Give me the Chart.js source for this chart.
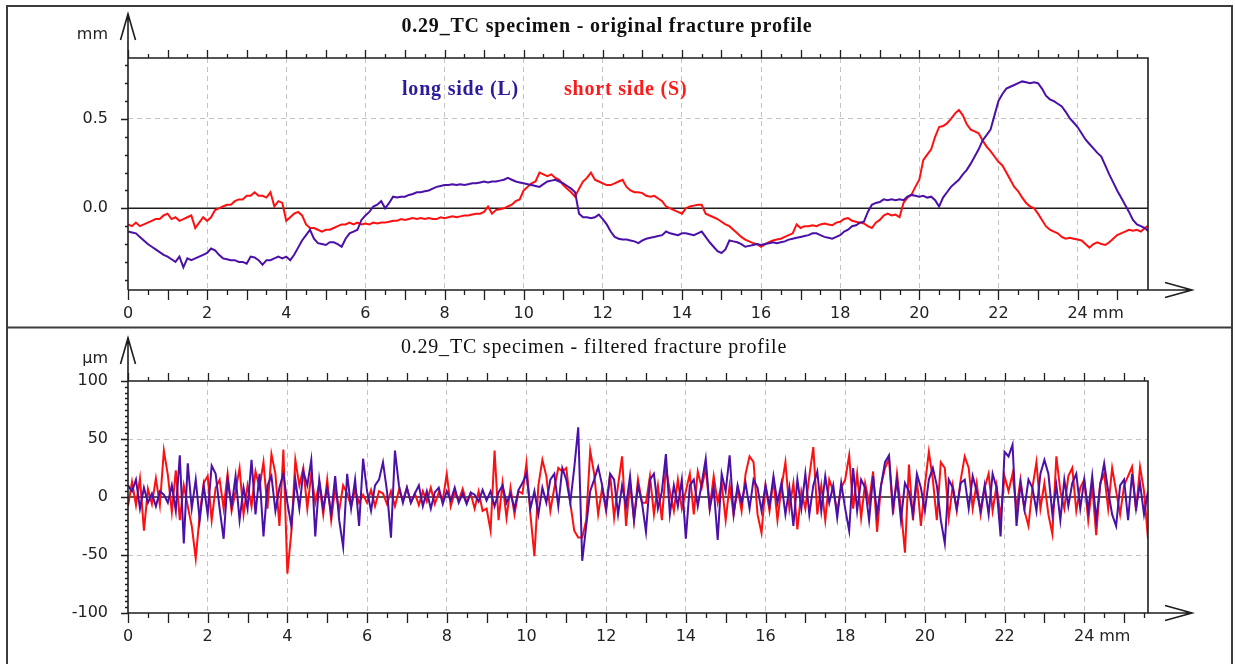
<!DOCTYPE html>
<html>
<head>
<meta charset="utf-8">
<script src="https://cdn.jsdelivr.net/npm/chart.js@4.4.1/dist/chart.umd.min.js"></script>
<style>
  html, body { margin: 0; padding: 0; background: #fff; }
  #topChart { position: absolute; left: 0; top: 0; }
  #botChart { position: absolute; left: 0; top: 328px; }
</style>
</head>
<body>
<canvas id="topChart" width="1235" height="329"></canvas>
<canvas id="botChart" width="1235" height="336"></canvas>
<script>
// sampling step along the profile (mm)
const TOP_STEP = 0.1;
const FILT_STEP = 0.1;

// x tick labels (mm), same for both panels
const X_LABELS = [0, 2, 4, 6, 8, 10, 12, 14, 16, 18, 20, 22, 24];
const TOP_Y_LABELS = [0, 0.5];
const FILT_Y_LABELS = [-100, -50, 0, 50, 100];

// original fracture profile (mm), 0 .. 25.8 mm
const TOP_SHORT = [
  -0.09,-0.10,-0.08,-0.10,-0.09,-0.08,-0.07,-0.06,-0.06,-0.04,
  -0.03,-0.06,-0.05,-0.07,-0.06,-0.05,-0.04,-0.11,-0.08,-0.05,
  -0.07,-0.05,-0.01,0.00,0.01,0.02,0.02,0.04,0.05,0.05,
  0.07,0.07,0.09,0.07,0.07,0.06,0.09,0.01,0.04,0.03,
  -0.07,-0.05,-0.03,-0.02,-0.04,-0.09,-0.11,-0.11,-0.12,-0.13,
  -0.12,-0.12,-0.11,-0.10,-0.09,-0.09,-0.08,-0.09,-0.08,-0.09,
  -0.085,-0.09,-0.08,-0.085,-0.08,-0.08,-0.075,-0.07,-0.07,-0.06,
  -0.065,-0.06,-0.055,-0.06,-0.055,-0.06,-0.055,-0.06,-0.06,-0.05,
  -0.055,-0.05,-0.045,-0.05,-0.045,-0.04,-0.04,-0.035,-0.03,-0.03,
  -0.02,0.01,-0.03,-0.01,-0.005,0.00,0.01,0.02,0.04,0.05,
  0.10,0.12,0.14,0.15,0.20,0.19,0.18,0.19,0.17,0.16,
  0.13,0.11,0.09,0.065,0.11,0.15,0.17,0.20,0.16,0.15,
  0.14,0.13,0.13,0.14,0.15,0.16,0.12,0.10,0.09,0.09,
  0.085,0.07,0.065,0.07,0.055,0.04,0.01,0.00,-0.01,-0.02,
  -0.03,0.00,0.01,0.015,0.02,0.02,-0.03,-0.04,-0.05,-0.06,
  -0.075,-0.09,-0.10,-0.12,-0.14,-0.16,-0.175,-0.185,-0.195,-0.20,
  -0.215,-0.20,-0.19,-0.18,-0.175,-0.17,-0.16,-0.15,-0.14,-0.09,
  -0.11,-0.10,-0.10,-0.095,-0.10,-0.09,-0.085,-0.09,-0.095,-0.08,
  -0.075,-0.06,-0.055,-0.07,-0.075,-0.08,-0.085,-0.10,-0.11,-0.08,
  -0.065,-0.04,-0.03,-0.04,-0.035,-0.05,0.03,0.06,0.075,0.12,
  0.16,0.27,0.30,0.33,0.40,0.455,0.46,0.475,0.50,0.53,
  0.55,0.52,0.47,0.44,0.43,0.42,0.38,0.345,0.32,0.29,
  0.26,0.24,0.20,0.16,0.12,0.095,0.06,0.03,0.01,0.00,
  -0.03,-0.065,-0.10,-0.12,-0.13,-0.14,-0.16,-0.17,-0.165,-0.17,
  -0.175,-0.18,-0.20,-0.22,-0.20,-0.19,-0.20,-0.205,-0.19,-0.17,
  -0.15,-0.14,-0.13,-0.12,-0.125,-0.12,-0.13,-0.11,-0.095
];
const TOP_LONG = [
  -0.13,-0.135,-0.14,-0.16,-0.18,-0.20,-0.215,-0.23,-0.245,-0.26,
  -0.27,-0.285,-0.30,-0.27,-0.33,-0.28,-0.29,-0.28,-0.27,-0.26,
  -0.25,-0.225,-0.235,-0.26,-0.28,-0.285,-0.29,-0.29,-0.30,-0.30,
  -0.31,-0.27,-0.275,-0.29,-0.315,-0.29,-0.29,-0.28,-0.27,-0.28,
  -0.27,-0.29,-0.26,-0.22,-0.18,-0.15,-0.12,-0.17,-0.195,-0.20,
  -0.205,-0.19,-0.19,-0.20,-0.215,-0.17,-0.14,-0.13,-0.12,-0.065,
  -0.04,-0.02,0.01,0.02,0.04,0.00,0.03,0.065,0.06,0.065,
  0.065,0.075,0.08,0.09,0.09,0.095,0.10,0.11,0.12,0.125,
  0.13,0.13,0.135,0.13,0.135,0.13,0.135,0.14,0.14,0.145,
  0.15,0.145,0.15,0.15,0.155,0.16,0.17,0.16,0.15,0.145,
  0.14,0.135,0.13,0.125,0.12,0.135,0.15,0.155,0.16,0.15,
  0.14,0.125,0.11,0.09,-0.03,-0.05,-0.05,-0.055,-0.05,-0.035,
  -0.06,-0.09,-0.13,-0.16,-0.17,-0.175,-0.175,-0.18,-0.185,-0.195,
  -0.18,-0.17,-0.165,-0.16,-0.155,-0.15,-0.13,-0.14,-0.145,-0.15,
  -0.14,-0.14,-0.145,-0.15,-0.14,-0.13,-0.16,-0.19,-0.215,-0.24,
  -0.25,-0.23,-0.18,-0.185,-0.19,-0.20,-0.215,-0.21,-0.205,-0.20,
  -0.205,-0.20,-0.195,-0.19,-0.195,-0.19,-0.185,-0.175,-0.17,-0.165,
  -0.16,-0.155,-0.15,-0.14,-0.14,-0.15,-0.16,-0.165,-0.17,-0.16,
  -0.15,-0.13,-0.12,-0.10,-0.095,-0.08,-0.075,-0.02,0.02,0.03,
  0.035,0.05,0.045,0.05,0.045,0.05,0.045,0.065,0.075,0.07,
  0.065,0.07,0.06,0.065,0.045,0.01,0.06,0.09,0.12,0.14,
  0.16,0.19,0.215,0.25,0.29,0.33,0.38,0.41,0.44,0.52,
  0.60,0.64,0.67,0.68,0.69,0.70,0.71,0.705,0.70,0.705,
  0.70,0.67,0.63,0.61,0.60,0.585,0.57,0.54,0.505,0.48,
  0.455,0.42,0.385,0.36,0.335,0.31,0.29,0.24,0.19,0.145,
  0.10,0.06,0.02,-0.02,-0.065,-0.09,-0.10,-0.11,-0.13
];

// filtered fracture profile (µm), 0 .. 25.6 mm
const FILT_SHORT = [
  -8,13,-7,16,-29,7,-6,16,-7,40,
  19,-13,23,-20,10,-8,-25,-53,-15,12,
  18,-20,8,15,-10,20,-12,5,25,-15,
  10,-8,22,8,30,-10,37,20,-25,41,
  -66,-30,32,10,25,-10,20,-5,12,-15,
  15,-20,8,-12,10,3,-8,6,-5,2,
  -5,6,-8,5,3,-6,5,-8,6,-3,
  8,-5,3,-7,5,-4,8,-6,4,-3,
  20,-8,4,-3,7,-5,3,-10,5,-12,
  -10,-29,40,-20,12,-18,8,-15,5,3,
  29,-15,-51,10,32,18,-12,8,25,22,
  25,-5,-29,-35,-35,-20,40,20,-15,8,
  -12,20,-18,10,35,-25,12,-20,15,-5,
  -5,18,-15,10,-20,25,5,-12,15,-10,
  5,20,-15,22,8,25,-10,18,-5,12,
  -20,10,-15,8,-12,20,35,30,-15,-31,
  10,-12,15,-20,8,30,-10,12,-28,5,
  -10,18,43,-15,10,-20,15,5,-12,8,
  15,36,-10,20,-18,12,-5,22,-30,10,
  25,33,-15,20,-10,-48,28,-20,15,-25,
  10,39,15,-20,30,25,-18,10,-12,15,
  35,25,-10,12,-15,8,20,-12,10,-18,
  18,5,20,-10,15,-12,-25,8,30,-10,
  12,-15,-32,35,5,-10,18,25,-12,8,
  15,-20,10,-33,12,20,-10,25,5,-15,
  10,18,26,-12,26,5,-36
];
const FILT_LONG = [
  10,5,15,-10,8,-5,3,-8,5,2,
  -5,10,-12,36,-40,29,-10,15,-20,10,
  -15,27,20,-10,-36,15,-8,18,-20,8,
  -10,32,-15,20,-34,10,18,-12,8,20,
  -5,-25,15,-10,22,10,32,-34,15,-10,
  8,-15,18,-20,-43,20,-10,15,-25,33,
  5,-12,10,15,30,5,-35,40,10,-5,
  8,-5,3,10,-8,5,-10,4,8,-6,
  5,-3,8,-5,3,-6,4,2,-4,6,
  -3,5,-8,4,10,-5,3,-10,6,12,
  20,-10,5,-15,8,-5,15,20,-8,25,
  15,-5,25,60,-55,-25,5,15,26,10,
  -10,20,15,-15,10,-8,18,-20,10,-5,
  -30,15,20,-10,5,37,-15,10,-8,15,
  -36,10,15,-8,12,33,-10,8,-37,20,
  5,36,-15,10,-5,12,-10,15,8,-12,
  10,-8,18,-5,12,-15,8,-25,15,-10,
  20,-15,10,22,-12,18,-5,10,-18,12,
  -10,-29,25,-12,15,8,-20,18,-15,10,
  30,36,-10,15,-20,12,5,-15,20,8,
  -12,15,25,10,-20,-40,15,8,-10,12,
  15,-10,18,5,-12,10,-15,20,8,-34,
  39,35,45,-25,12,-10,15,8,-12,20,
  32,20,-15,10,-20,15,-8,12,20,-10,
  15,-12,18,-20,10,29,5,-15,-25,10,
  15,-20,20,-10,12,-15,5
];

const LONG_COLOR = '#4a10a8';
const SHORT_COLOR = '#ff1010';
const GRID_COLOR = '#c4c4c4';
const AXIS_COLOR = '#1e1e1e';
const TICK_FONT = { family: 'DejaVu Sans', size: 16 };

function toPoints(arr, step) {
  return arr.map((v, i) => ({ x: +(i * step).toFixed(2), y: v }));
}

// axes, arrows, ticks, frame and texts
function decor(o) {
  return {
    id: 'decor',
    beforeDatasetsDraw(chart) {
      const { ctx, chartArea: a } = chart;
      const y0 = chart.scales.y.getPixelForValue(0);
      ctx.save();
      ctx.strokeStyle = AXIS_COLOR;
      ctx.lineWidth = 1.4;
      ctx.beginPath(); ctx.moveTo(a.left, y0); ctx.lineTo(a.right, y0); ctx.stroke();
      ctx.restore();
    },
    afterDraw(chart) {
      const { ctx, chartArea: a, height } = chart;
      const xs = chart.scales.x, ys = chart.scales.y;
      ctx.save();

      // panel border
      ctx.strokeStyle = '#3c3c3c';
      ctx.lineWidth = 2;
      ctx.beginPath();
      if (o.panelTop) {
        ctx.moveTo(7, 6); ctx.lineTo(1232, 6); ctx.lineTo(1232, height - 1.5);
        ctx.lineTo(7, height - 1.5); ctx.closePath();
      } else {
        ctx.moveTo(7, 0); ctx.lineTo(7, height);
        ctx.moveTo(1232, 0); ctx.lineTo(1232, height);
      }
      ctx.stroke();

      // plot frame + axes
      ctx.strokeStyle = AXIS_COLOR;
      ctx.lineWidth = 1.6;
      ctx.beginPath();
      ctx.moveTo(a.left, a.top); ctx.lineTo(a.right, a.top); ctx.lineTo(a.right, a.bottom);
      ctx.moveTo(a.left, a.bottom); ctx.lineTo(1192, a.bottom);
      ctx.moveTo(a.left, a.bottom); ctx.lineTo(a.left, o.arrowTop);
      // arrow heads
      ctx.moveTo(1165, a.bottom - 7.5); ctx.lineTo(1192, a.bottom); ctx.lineTo(1165, a.bottom + 7.5);
      ctx.moveTo(a.left - 7.5, o.arrowTop + 26); ctx.lineTo(a.left, o.arrowTop); ctx.lineTo(a.left + 7.5, o.arrowTop + 26);
      ctx.stroke();

      // x ticks (bottom axis down, top frame up)
      ctx.lineWidth = 1.3;
      ctx.beginPath();
      for (let k = 0; k * 0.5 <= o.xTickMax + 1e-9; k++) {
        const px = Math.round(xs.getPixelForValue(k * 0.5)) + 0.5;
        const major = k % 2 === 0;
        ctx.moveTo(px, a.bottom); ctx.lineTo(px, a.bottom + (major ? 10 : 5));
        ctx.moveTo(px, a.top); ctx.lineTo(px, a.top - (major ? 8 : 4));
      }
      // y ticks
      const k0 = Math.round(o.yTickMin / o.yStep), k1 = Math.round(o.yTickMax / o.yStep);
      for (let k = k0; k <= k1; k++) {
        const v = k * o.yStep;
        const r = v / o.yMajor;
        const major = Math.abs(r - Math.round(r)) < 1e-6;
        const py = Math.round(ys.getPixelForValue(v)) + 0.5;
        ctx.moveTo(a.left, py); ctx.lineTo(a.left - (major ? 7 : 3), py);
      }
      ctx.stroke();

      // texts
      ctx.textBaseline = 'middle';
      ctx.fillStyle = '#222';
      ctx.font = '16px "DejaVu Sans"';
      ctx.textAlign = 'right';
      ctx.fillText(o.unit, 108, o.unitY);
      ctx.textAlign = 'left';
      ctx.fillText('mm', xs.getPixelForValue(24) + 15, a.bottom + 24);

      ctx.letterSpacing = '0.8px';
      ctx.fillStyle = '#111';
      ctx.textAlign = 'center';
      ctx.font = o.titleFont;
      ctx.fillText(o.title, o.titleX, o.titleY);

      if (o.legend) {
        ctx.textAlign = 'left';
        ctx.font = 'bold 20px "Liberation Serif"';
        ctx.fillStyle = '#2a1a9c';
        ctx.fillText('long side (L)', 402, 90);
        ctx.fillStyle = '#ff1a1a';
        ctx.fillText('short side (S)', 564, 90);
      }
      ctx.restore();
    }
  };
}

function makeChart(id, long, short, step, yLabels, o) {
  return new Chart(document.getElementById(id), {
    type: 'line',
    data: {
      datasets: [
        { label: 'long side (L)', data: toPoints(long, step), borderColor: LONG_COLOR },
        { label: 'short side (S)', data: toPoints(short, step), borderColor: SHORT_COLOR }
      ]
    },
    options: {
      responsive: false,
      animation: false,
      devicePixelRatio: 1,
      parsing: false,
      layout: { padding: { left: 0, right: 87, top: o.padTop, bottom: 0 } },
      elements: {
        point: { radius: 0 },
        line: { borderWidth: 2, tension: 0 }
      },
      plugins: { legend: { display: false }, tooltip: { enabled: false } },
      scales: {
        x: {
          type: 'linear',
          min: 0,
          max: o.xMax,
          afterFit: s => { s.height = o.xAxisH; },
          afterBuildTicks: s => { s.ticks = X_LABELS.map(v => ({ value: v })); },
          grid: {
            drawTicks: false,
            color: c => (c.tick && c.tick.value > 0) ? GRID_COLOR : 'rgba(0,0,0,0)'
          },
          border: { display: false, dash: [5, 4] },
          ticks: {
            font: TICK_FONT, color: '#222', padding: 14,
            maxRotation: 0, autoSkip: false,
            callback: v => String(v)
          }
        },
        y: {
          type: 'linear',
          min: o.yMin,
          max: o.yMax,
          afterFit: s => { s.width = 128; },
          afterBuildTicks: s => { s.ticks = yLabels.map(v => ({ value: v })); },
          grid: {
            drawTicks: false,
            color: c => (c.tick && c.tick.value !== 0 && c.tick.value > o.yMin && c.tick.value < o.yMax)
              ? GRID_COLOR : 'rgba(0,0,0,0)'
          },
          border: { display: false, dash: [5, 4] },
          ticks: {
            font: TICK_FONT, color: '#222', padding: 20,
            callback: v => o.yFmt(v)
          }
        }
      }
    },
    plugins: [decor(o)]
  });
}

makeChart('topChart', TOP_LONG, TOP_SHORT, TOP_STEP, TOP_Y_LABELS, {
  panelTop: true, padTop: 58, xAxisH: 39, xMax: 25.78, xTickMax: 25.5,
  yMin: -0.457, yMax: 0.841, yStep: 0.1, yMajor: 0.5, yTickMin: -0.4, yTickMax: 0.8,
  yFmt: v => v.toFixed(1),
  arrowTop: 14, unit: 'mm', unitY: 35,
  title: '0.29_TC specimen - original fracture profile',
  titleFont: 'bold 20px "Liberation Serif"', titleX: 607, titleY: 27,
  legend: true
});

makeChart('botChart', FILT_LONG, FILT_SHORT, FILT_STEP, FILT_Y_LABELS, {
  panelTop: false, padTop: 53, xAxisH: 51, xMax: 25.6, xTickMax: 25.5,
  yMin: -100, yMax: 100, yStep: 5, yMajor: 50, yTickMin: -100, yTickMax: 100,
  yFmt: v => String(v),
  arrowTop: 10, unit: 'µm', unitY: 31,
  title: '0.29_TC specimen - filtered fracture profile',
  titleFont: '20px "Liberation Serif"', titleX: 594, titleY: 20,
  legend: false
});
</script>
</body>
</html>
